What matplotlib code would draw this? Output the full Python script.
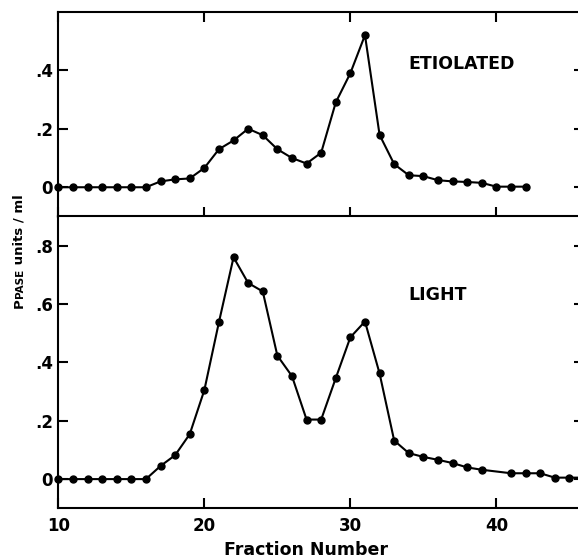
#!/usr/bin/env python3
"""
PPase elution profiles (etiolated vs light-grown tissue).
Two stacked panels sharing the fraction axis, saved to out.png.
"""

import matplotlib
matplotlib.use("Agg")
import matplotlib.pyplot as plt

# Etiolated profile (fractions 10-42)
etiolated_fractions = [10, 11, 12, 13, 14, 15, 16, 17, 18, 19, 20, 21, 22, 23, 24, 25, 26,
                       27, 28, 29, 30, 31, 32, 33, 34, 35, 36, 37, 38, 39, 40, 41, 42]
etiolated_activity = [0, 0, 0, 0, 0, 0, 0, 0.02, 0.027, 0.03, 0.066, 0.13, 0.16, 0.2, 0.178,
                      0.13, 0.10, 0.081, 0.118, 0.29, 0.39, 0.52, 0.179, 0.079, 0.041, 0.038,
                      0.024, 0.02, 0.018, 0.015, 0.002, 0.002, 0.002]

# Light profile (fraction 40 was not assayed)
light_fractions = [10, 11, 12, 13, 14, 15, 16, 17, 18, 19, 20, 21, 22, 23, 24, 25, 26, 27,
                   28, 29, 30, 31, 32, 33, 34, 35, 36, 37, 38, 39, 41, 42, 43, 44, 45, 46]
light_activity = [0, 0, 0, 0, 0, 0, 0, 0.045, 0.082, 0.154, 0.305, 0.538, 0.76, 0.672, 0.643,
                  0.423, 0.353, 0.204, 0.204, 0.346, 0.486, 0.54, 0.362, 0.132, 0.089, 0.076,
                  0.066, 0.055, 0.040, 0.032, 0.02, 0.02, 0.02, 0.005, 0.005, 0.005]

x_ticks = [10, 20, 30, 40]
x_tick_labels = ["10", "20", "30", "40"]
top_y_ticks = [0, 0.2, 0.4]
top_y_labels = ["0", ".2", ".4"]
bottom_y_ticks = [0, 0.2, 0.4, 0.6, 0.8]
bottom_y_labels = ["0", ".2", ".4", ".6", ".8"]

FONT = "DejaVu Sans"


def style_axis(ax, yticks, ylabels):
    """Inward ticks on all sides, thick black frame."""
    for side in ax.spines.values():
        side.set_linewidth(1.5)
    ax.set_xlim(10, 46)
    ax.set_xticks(x_ticks)
    ax.set_yticks(yticks)
    ax.set_yticklabels(ylabels, fontsize=12, fontfamily=FONT, fontweight="bold")
    ax.tick_params(axis="y", direction="in", length=7, width=1.5, left=True, right=True, pad=4)
    ax.tick_params(axis="x", direction="in", length=7.5, width=1.5, pad=6)


def plot_profile(ax, xs, ys):
    ax.plot(xs, ys, color="black", lw=1.5, marker="o", markersize=5, clip_on=False, zorder=3)


def main():
    fig = plt.figure(figsize=(5.78, 5.58), dpi=100)
    ax_top = fig.add_axes([0.1009, 0.612, 0.9095, 0.367])
    ax_bot = fig.add_axes([0.1009, 0.0891, 0.9095, 0.523])

    # 1. Etiolated panel
    plot_profile(ax_top, etiolated_fractions, etiolated_activity)
    style_axis(ax_top, top_y_ticks, top_y_labels)
    ax_top.set_ylim(-0.1, 0.6)
    ax_top.tick_params(axis="x", top=True, bottom=True, labelbottom=False)
    ax_top.text(34, 0.422, "ETIOLATED", ha="left", va="center", fontsize=12.5,
                fontfamily=FONT, fontweight="bold")

    # 2. Light panel
    plot_profile(ax_bot, light_fractions, light_activity)
    style_axis(ax_bot, bottom_y_ticks, bottom_y_labels)
    ax_bot.set_ylim(-0.1, 0.9)
    ax_bot.tick_params(axis="x", top=False, bottom=True)
    ax_bot.set_xticklabels(x_tick_labels, fontsize=12, fontfamily=FONT, fontweight="bold")
    ax_bot.text(34, 0.63, "LIGHT", ha="left", va="center", fontsize=12.5,
                fontfamily=FONT, fontweight="bold")
    ax_bot.set_xlabel("Fraction Number", fontsize=12.5, fontfamily=FONT, fontweight="bold")
    ax_bot.xaxis.set_label_coords(0.472, -0.112)

    # 3. Y label with small caps "PPASE", built piece by piece along one baseline
    renderer = fig.canvas.get_renderer()
    pieces = [("P", 9.5), ("PASE", 7.5), (" units / ml", 9.5)]
    y_pos = 0.448
    for txt, size in pieces:
        t = fig.text(0.039, y_pos, txt, rotation=90, rotation_mode="anchor",
                     ha="left", va="baseline", fontsize=size,
                     fontfamily=FONT, fontweight="bold")
        ext = t.get_window_extent(renderer=renderer)
        y_pos += ext.height / fig.bbox.height

    fig.savefig("out.png", dpi=100)
    plt.close(fig)


if __name__ == "__main__":
    main()
